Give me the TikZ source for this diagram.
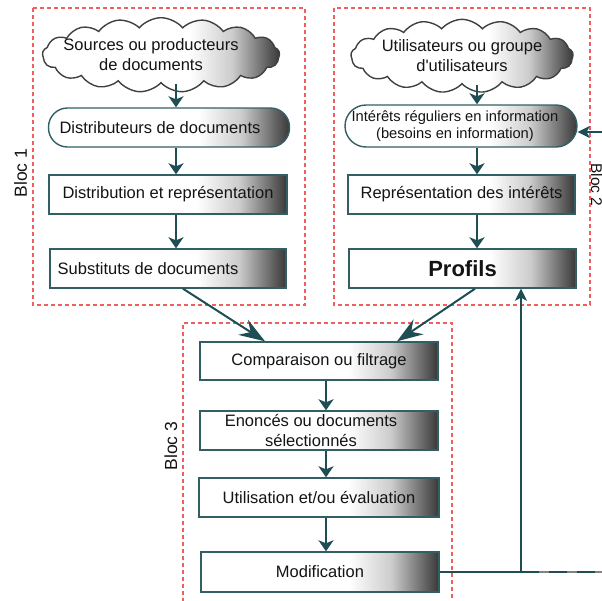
\documentclass[tikz,border=0pt]{standalone}
\usepackage{fontspec}
\setmainfont{Liberation Sans}
\usetikzlibrary{shapes.symbols,arrows.meta}

\definecolor{flowline}{RGB}{30,78,84}
\definecolor{boxedge}{RGB}{50,95,100}
\definecolor{blocdash}{RGB}{240,95,95}
\definecolor{ink}{RGB}{20,20,20}
\definecolor{feedgray}{RGB}{130,130,130}

% white on the left two thirds, darkening towards the right edge
\pgfdeclarehorizontalshading{boxshade}{100bp}{color(0bp)=(white); color(56bp)=(white); color(65bp)=(black!20); color(71bp)=(black!55); color(75bp)=(black!78); color(100bp)=(black!78)}

\tikzset{
  txt/.style={font=\fontsize{16.5}{20}\selectfont, text=ink, align=center},
  stepbox/.style={txt, rectangle, draw=boxedge, line width=1.4pt, shading=boxshade, minimum height=39pt, inner sep=0pt},
  pillbox/.style={stepbox, rounded corners=19pt},
  cloudbox/.style={txt, cloud, cloud puffs=17, cloud puff arc=100, cloud ignores aspect, draw=black!75, line width=1.4pt, shading=boxshade, inner ysep=3.5pt},
  blocframe/.style={draw=blocdash, line width=1.3pt, dash pattern=on 4pt off 3pt},
  bloclabel/.style={font=\fontsize{17.5}{20}\selectfont, text=ink, anchor=base},
  flow/.style={draw=flowline, line width=2pt, -{Stealth[length=11pt,width=15pt,inset=3pt]}},
  bigflow/.style={draw=flowline, line width=2pt, -{Stealth[length=26pt,width=18pt,inset=9pt]}},
  feedflow/.style={draw=flowline, line width=2pt, -{Stealth[length=12pt,width=12pt,inset=3pt]}},
}

\begin{document}
\begin{tikzpicture}[x=1pt, y=-1pt]
\useasboundingbox (0,0) rectangle (602,600);

% block frames
\draw[blocframe] (33,8) rectangle (305,305);
\draw[blocframe] (334,8) rectangle (590,305);
\draw[blocframe] (183,602) -- (183,323) -- (452,323) -- (452,602);

% block labels
\node[bloclabel, rotate=90] (b1) at (27,173) {Bloc 1};
\node[bloclabel, rotate=-90, font=\fontsize{15.5}{18}\selectfont] (b2) at (591,185) {Bloc 2};
\node[bloclabel, rotate=90] (b3) at (177,446) {Bloc 3};

% block 1: documents
\node[cloudbox, inner xsep=-14pt] (srcs) at (161,55) {Sources ou producteurs\hspace*{20pt}\\de documents\hspace*{20pt}};
\node[pillbox, minimum width=241pt] (distr) at (169,127.5) {Distributeurs de documents\hspace*{18pt}};
\node[stepbox, minimum width=238pt] (diff) at (168,194.5) {Distribution et représentation};
\node[stepbox, minimum width=236pt] (subs) at (168,268.5) {Substituts de documents\hspace*{40pt}};

% block 2: users
\node[cloudbox, inner xsep=-2pt] (users) at (462,56) {Utilisateurs ou groupe\\d\textquotesingle utilisateurs};
\node[pillbox, minimum width=232pt, minimum height=42pt, rounded corners=21pt, font=\fontsize{14.7}{17}\selectfont] (inter) at (461,126) {Intérêts réguliers en information\hspace*{12pt}\\(besoins en information)\hspace*{12pt}};
\node[stepbox, minimum width=227pt] (repr) at (461.5,194.5) {Représentation des intérêts};
\node[stepbox, minimum width=227pt, font=\fontsize{22}{24}\bfseries\selectfont] (prof) at (462.5,268.5) {Profils};

% block 3: filtering
\node[stepbox, minimum width=238pt, minimum height=38pt] (comp) at (319,361) {Comparaison ou filtrage};
\node[stepbox, minimum width=238pt] (enon) at (319,430.5) {Enoncés ou documents\hspace*{16pt}\\sélectionnés\hspace*{16pt}};
\node[stepbox, minimum width=240pt] (util) at (319,497.5) {Utilisation et/ou évaluation};
\node[stepbox, minimum width=238pt, minimum height=40pt] (modif) at (320,572) {Modification};

% connector columns
\coordinate (colA) at (176,0);
\coordinate (colB) at (477,0);
\coordinate (colC) at (326,0);

\draw[flow] (srcs.south -| colA) -- (distr.north -| colA);
\draw[flow] (distr.south -| colA) -- (diff.north -| colA);
\draw[flow] (diff.south -| colA) -- (subs.north -| colA);

\draw[flow] (users.south -| colB) -- (inter.north -| colB);
\draw[flow] (inter.south -| colB) -- (repr.north -| colB);
\draw[flow] (repr.south -| colB) -- (prof.north -| colB);

\draw[flow] (comp.south -| colC) -- (enon.north -| colC);
\draw[flow] (enon.south -| colC) -- (util.north -| colC);
\draw[flow] (util.south -| colC) -- (modif.north -| colC);

% both streams meet at the comparison step
\draw[bigflow] ([xshift=15pt]subs.south) -- ([xshift=-54pt]comp.north);
\draw[bigflow] ([xshift=12.5pt]prof.south) -- ([xshift=78pt]comp.north);

% feedback loop
\coordinate (junc) at (521,572);
\coordinate (edgeR) at (602,572);
\coordinate (edgeI) at (602,132);
\draw[draw=flowline, line width=2pt] (modif.east) -- (junc);
\draw[feedflow] (junc) -- (junc |- prof.south);
\draw[draw=feedgray, line width=1.5pt] (junc) -- (edgeR);
\draw[draw=flowline, line width=2pt, dash pattern=on 18pt off 10pt] (junc) -- (edgeR);
\draw[feedflow] (edgeI) -- (edgeI -| inter.east);
\end{tikzpicture}
\end{document}
